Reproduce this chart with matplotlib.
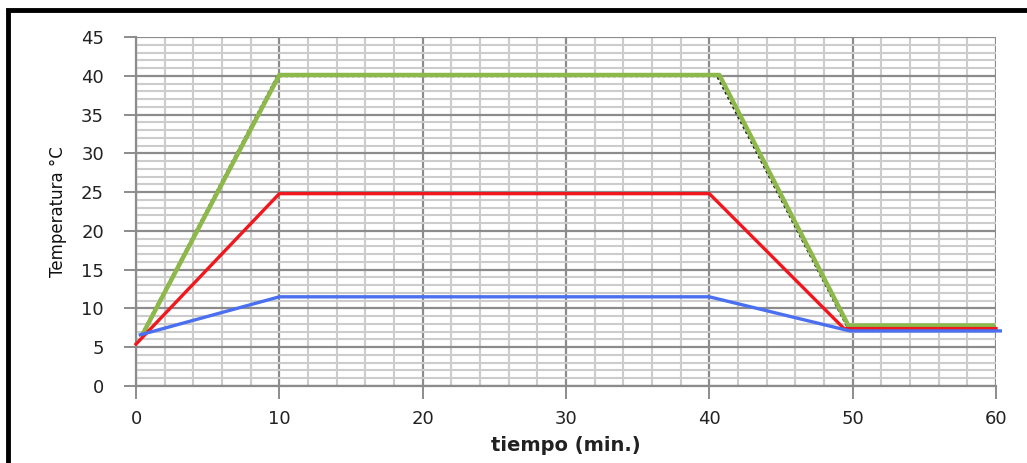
import matplotlib
matplotlib.use("Agg")
import matplotlib.pyplot as plt
from matplotlib.patches import Rectangle
from matplotlib.ticker import MultipleLocator

# Data
green_x = [0.5, 10, 40.7, 49.7, 59.8]
green_y = [6.8, 40.1, 40.1, 7.8, 7.8]
black_x = [0.4, 9.9, 40.55, 49.6, 59.6]
black_y = [6.6, 40.0, 40.0, 7.8, 7.8]
red_x = [0, 10, 40, 49.4, 60]
red_y = [5.4, 24.8, 24.8, 7.4, 7.4]
blue_x = [0.3, 10, 40, 49.8, 60.3]
blue_y = [6.6, 11.5, 11.5, 7.1, 7.1]

x_ticks = [0, 10, 20, 30, 40, 50, 60]
y_ticks = [0, 5, 10, 15, 20, 25, 30, 35, 40, 45]

fig = plt.figure(figsize=(10.27, 4.63), dpi=100)
ax = fig.add_axes([136 / 1027, 1 - 386 / 463, 860 / 1027, 349 / 463])

ax.set_xlim(0, 60)
ax.set_ylim(0, 45)
ax.set_xticks(x_ticks)
ax.set_yticks(y_ticks)
ax.xaxis.set_minor_locator(MultipleLocator(2))
ax.yaxis.set_minor_locator(MultipleLocator(1))

ax.grid(which="major", color="#8c8c8c", linewidth=1.6)
ax.grid(which="minor", color="#cccccc", linewidth=1.5)
ax.set_axisbelow(True)

for s in ["top", "right"]:
    ax.spines[s].set_visible(False)
for s in ["left", "bottom"]:
    ax.spines[s].set_color("#8c8c8c")
    ax.spines[s].set_linewidth(1.6)

ax.tick_params(axis="both", which="major", length=9, width=1.4, color="#8c8c8c",
               labelsize=13, labelcolor="#222222")
ax.tick_params(axis="y", which="major", pad=14)
ax.tick_params(axis="x", which="major", pad=8)
ax.tick_params(which="minor", length=0)

ax.plot(black_x, black_y, color="#222222", linewidth=2.0, linestyle=(0, (1, 1)),
        clip_on=False, zorder=3)
ax.plot(green_x, green_y, color="#8db84a", linewidth=3.2, clip_on=False, zorder=4)
ax.plot(red_x, red_y, color="#f0181e", linewidth=2.4, clip_on=False, zorder=5)
ax.plot(blue_x, blue_y, color="#4a6ff0", linewidth=2.4, clip_on=False, zorder=6)

ax.set_xlabel("tiempo (min.)", fontsize=14, fontweight="bold", color="#222222", labelpad=6)
ax.set_ylabel("Temperatura °C", fontsize=12, color="#111111",
              family=["Liberation Sans Narrow", "DejaVu Sans"], labelpad=10)

# Outer black frame (cut off on the right and bottom in the reference)
fig.patches.append(Rectangle((8 / 1027, -0.05), 1.1, 1 - 10 / 463 + 0.05,
                             transform=fig.transFigure, fill=False,
                             edgecolor="black", linewidth=3.5, clip_on=False))

fig.savefig("out.png", dpi=100)
